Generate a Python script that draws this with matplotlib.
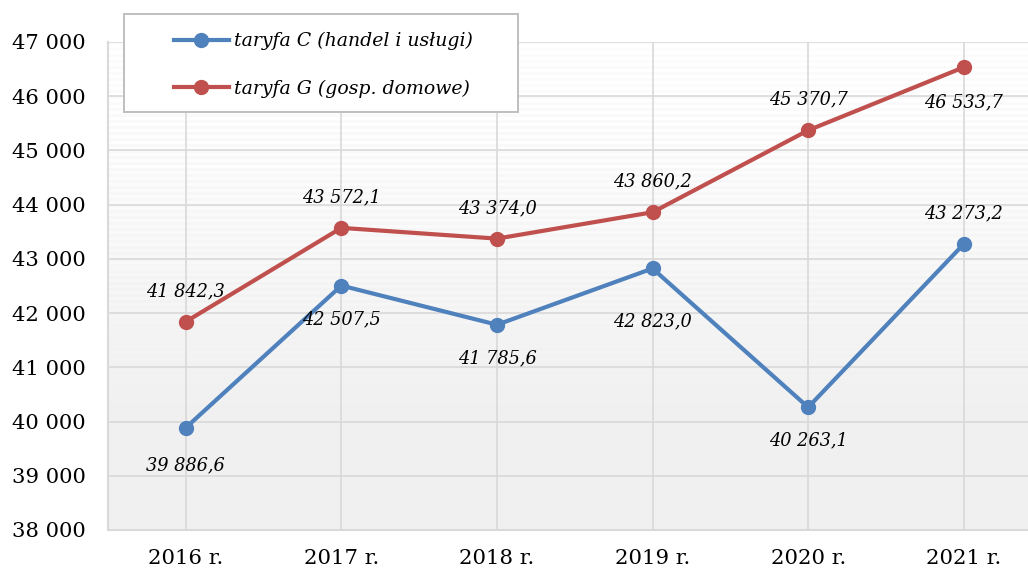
import numpy as np
import matplotlib
matplotlib.use("Agg")
import matplotlib.pyplot as plt
from matplotlib.patches import Rectangle

years = ["2016 r.", "2017 r.", "2018 r.", "2019 r.", "2020 r.", "2021 r."]
taryfa_c = [39886.6, 42507.5, 41785.6, 42823.0, 40263.1, 43273.2]
taryfa_g = [41842.3, 43572.1, 43374.0, 43860.2, 45370.7, 46533.7]
yticks = [38000, 39000, 40000, 41000, 42000, 43000, 44000, 45000, 46000, 47000]

# label offsets (points): above / below the marker
c_off = [-27, -24, -24, -38, -24, 22]
g_off = [22, 22, 22, 22, 22, -25]

BLUE = "#4f81bd"
RED = "#c0504d"
GRID = "#d9d9d9"

plt.rcParams["font.family"] = ["DejaVu Serif"]

fig = plt.figure(figsize=(10.28, 5.71), dpi=100)
ax = fig.add_axes([108 / 1028, 1 - 530 / 571, 1 - 108 / 1028, (530 - 42) / 571])

# striped gradient background
H = 488
rows = np.arange(H)
t = rows / H
stripe = ((rows // 3) % 2).astype(float)
fade = np.clip(1 - t / 0.75, 0, 1)
val = 0.94 + 0.06 * fade * (0.5 + 0.5 * stripe) * 0.9 + 0.02 * fade
val = np.clip(val, 0, 1)
bg = np.repeat(val[:, None], 10, axis=1)
ax.imshow(bg, cmap="gray", vmin=0, vmax=1, aspect="auto",
          extent=[-0.5, 5.413, 38000, 47000], zorder=0, interpolation="nearest")

x = np.arange(len(years))
ax.plot(x, taryfa_c, color=BLUE, lw=3, marker="o", ms=10, zorder=3,
        label="taryfa C (handel i usługi)")
ax.plot(x, taryfa_g, color=RED, lw=3, marker="o", ms=10, zorder=3,
        label="taryfa G (gosp. domowe)")

def fmt(v):
    return f"{v:,.1f}".replace(",", " ").replace(".", ",")

for i, v in enumerate(taryfa_c):
    ax.annotate(fmt(v), (i, v), xytext=(0, c_off[i]), textcoords="offset points",
                ha="center", va="center", style="italic", fontsize=12.8, zorder=4)
for i, v in enumerate(taryfa_g):
    ax.annotate(fmt(v), (i, v), xytext=(0, g_off[i]), textcoords="offset points",
                ha="center", va="center", style="italic", fontsize=12.8, zorder=4)

ax.set_xlim(-0.5, 5.413)
ax.set_ylim(38000, 47000)
ax.set_xticks(x)
ax.set_xticklabels(years, fontsize=15.3)
ax.set_yticks(yticks)
ax.set_yticklabels([f"{v:,}".replace(",", " ") for v in yticks], fontsize=15.2)
ax.tick_params(length=0)
ax.tick_params(axis="y", pad=16)
ax.tick_params(axis="x", pad=14)
ax.grid(True, color=GRID, lw=1.2, zorder=1)
ax.set_axisbelow(True)
for s in ["top", "right"]:
    ax.spines[s].set_visible(False)
for s in ["left", "bottom"]:
    ax.spines[s].set_color(GRID)
    ax.spines[s].set_linewidth(1.5)

# legend box drawn separately so padding matches
W, Hf = 1028, 571
fig.patches.append(Rectangle((124 / W, 1 - 112 / Hf), (518 - 124) / W, (112 - 14) / Hf,
                             transform=fig.transFigure, facecolor="white",
                             edgecolor="#bfbfbf", lw=1.4, zorder=5))
leg = fig.legend(loc="upper left", bbox_to_anchor=(155 / W, 1 - 13 / Hf),
                 prop={"style": "italic", "size": 13.6}, frameon=False,
                 handlelength=2.9, labelspacing=1.55, borderpad=0.5, handletextpad=0.3)
leg.set_zorder(6)

fig.savefig("out.png", dpi=100)
